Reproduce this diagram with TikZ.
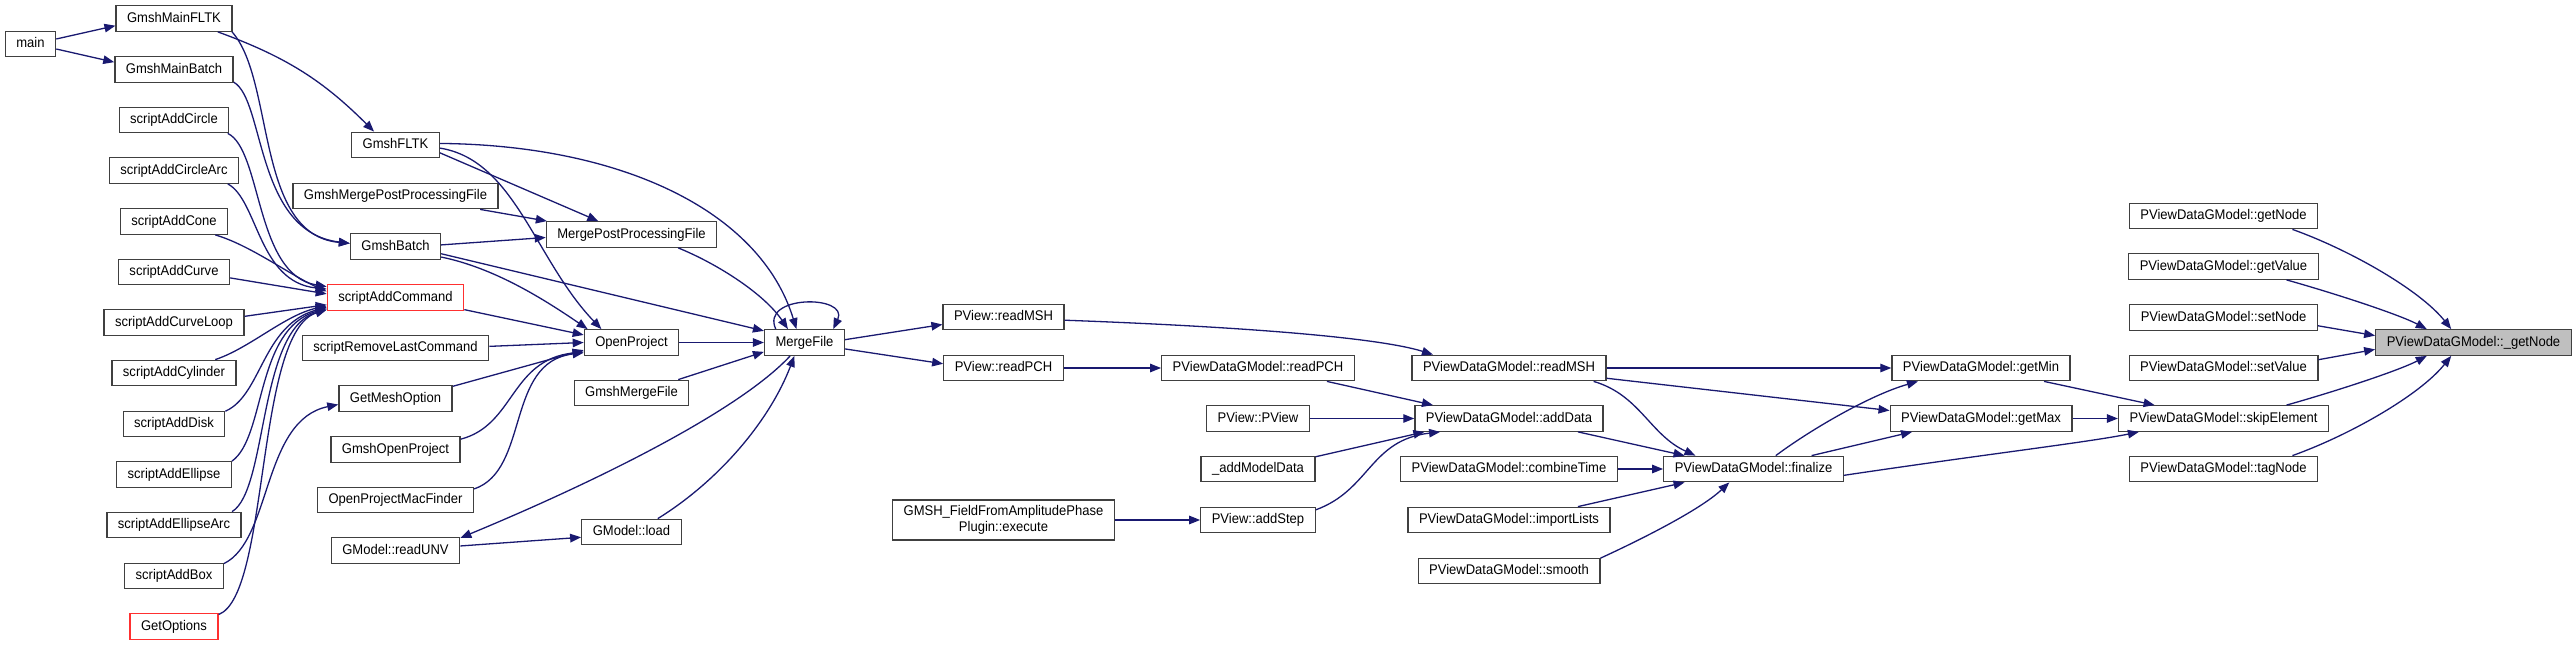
\documentclass[tikz,border=0pt]{standalone}
\usepackage{fontspec}
\setmainfont{Liberation Sans}[FakeStretch=0.93]
\usetikzlibrary{arrows.meta}
\definecolor{cEdge}{HTML}{191970}
\definecolor{cFrame}{HTML}{404040}
\definecolor{cTrunc}{HTML}{FF3030}
\definecolor{cCurrent}{HTML}{BFBFBF}

\begin{document}
\begin{tikzpicture}[
    x=1pt, y=1pt,
    func/.style={rectangle, draw=#1, fill=white, line width=1.3pt, minimum height=25.5pt, inner xsep=11pt, inner ysep=0pt, text height=10pt, text depth=3pt, font=\fontsize{14}{16}\selectfont},
    func/.default={cFrame},
    arr/.style={-{Triangle[length=11pt,width=8.5pt]}, line width=1.3pt, cEdge},
]
\useasboundingbox (0,0) rectangle (2576,-645);

\def\colA{174}
\def\colB{395.5}
\def\colC{631.5}
\def\colD{804.5}
\def\colE{1003.5}
\def\colF{1258}
\def\colG{1509}
\def\colH{1753.5}
\def\colI{1981}
\def\colJ{2223.5}
\def\colK{2473.5}

% Column 1
\node[func] (main) at (30.5,-44) {main};
\node[func] (gmfltk) at (\colA,-18.5) {GmshMainFLTK};
\node[func] (gmbatch) at (\colA,-69.5) {GmshMainBatch};
\node[func] (sacircle) at (\colA,-120) {scriptAddCircle};
\node[func] (sacarc) at (\colA,-170.5) {scriptAddCircleArc};
\node[func] (sacone) at (\colA,-221.5) {scriptAddCone};
\node[func] (sacurve) at (\colA,-272) {scriptAddCurve};
\node[func] (saloop) at (\colA,-322.5) {scriptAddCurveLoop};
\node[func] (sacyl) at (\colA,-373) {scriptAddCylinder};
\node[func] (sadisk) at (\colA,-424) {scriptAddDisk};
\node[func] (saell) at (\colA,-474.5) {scriptAddEllipse};
\node[func] (saellarc) at (\colA,-525) {scriptAddEllipseArc};
\node[func] (sabox) at (\colA,-576) {scriptAddBox};
\node[func=cTrunc] (getopt) at (\colA,-626.5) {GetOptions};

% Column 2
\node[func] (gfltk) at (\colB,-145) {GmshFLTK};
\node[func] (gmpp) at (\colB,-196) {GmshMergePostProcessingFile};
\node[func] (gbatch) at (\colB,-246.5) {GmshBatch};
\node[func=cTrunc] (sac) at (\colB,-297.5) {scriptAddCommand};
\node[func] (srlc) at (\colB,-348) {scriptRemoveLastCommand};
\node[func] (gmo) at (\colB,-398.5) {GetMeshOption};
\node[func] (gop) at (\colB,-449.5) {GmshOpenProject};
\node[func] (opmf) at (\colB,-500) {OpenProjectMacFinder};
\node[func] (readunv) at (\colB,-550.5) {GModel::readUNV};

% Column 3 and 4
\node[func] (mpp) at (\colC,-234.5) {MergePostProcessingFile};
\node[func] (openproj) at (\colC,-342.5) {OpenProject};
\node[func] (gmf) at (\colC,-393) {GmshMergeFile};
\node[func] (gmload) at (\colC,-532) {GModel::load};
\node[func] (mergefile) at (\colD,-342.5) {MergeFile};

% Column 5 and 6
\node[func] (pvmsh) at (\colE,-317) {PView::readMSH};
\node[func] (pvpch) at (\colE,-368) {PView::readPCH};
\node[func, align=center, text height={}, text depth={}, minimum height=40pt] (fieldexec) at (\colE,-520) {GMSH\_FieldFromAmplitudePhase\\Plugin::execute};
\node[func] (pdpch) at (\colF,-368) {PViewDataGModel::readPCH};
\node[func] (pview) at (\colF,-418.5) {PView::PView};
\node[func] (amd) at (\colF,-469) {\_addModelData};
\node[func] (addstep) at (\colF,-520) {PView::addStep};

% Column 7 and 8
\node[func] (pdmsh) at (\colG,-368) {PViewDataGModel::readMSH};
\node[func] (adddata) at (\colG,-418.5) {PViewDataGModel::addData};
\node[func] (combine) at (\colG,-469) {PViewDataGModel::combineTime};
\node[func] (importl) at (\colG,-520) {PViewDataGModel::importLists};
\node[func] (smooth) at (\colG,-571) {PViewDataGModel::smooth};
\node[func] (finalize) at (\colH,-469) {PViewDataGModel::finalize};

% Column 9 to 11
\node[func] (getmin) at (\colI,-368) {PViewDataGModel::getMin};
\node[func] (getmax) at (\colI,-418.5) {PViewDataGModel::getMax};
\node[func] (getnode) at (\colJ,-216) {PViewDataGModel::getNode};
\node[func] (getvalue) at (\colJ,-266.5) {PViewDataGModel::getValue};
\node[func] (setnode) at (\colJ,-317.5) {PViewDataGModel::setNode};
\node[func] (setvalue) at (\colJ,-368) {PViewDataGModel::setValue};
\node[func] (skipel) at (\colJ,-418.5) {PViewDataGModel::skipElement};
\node[func] (tagnode) at (\colJ,-469) {PViewDataGModel::tagNode};
\node[func, fill=cCurrent] (cur) at (\colK,-342.5) {PViewDataGModel::\_getNode};

% main and the Gmsh entry points
\draw[arr] (main.11) -- (gmfltk.187);
\draw[arr] (main.-11) -- (gmbatch.173);
\draw[arr] (gmfltk.-17) to[out=-20,in=135] (gfltk.148);
\draw[arr] (gmfltk.-13) .. controls (275,-80) and (255,-235) .. (gbatch.176);
\draw[arr] (gmbatch.-12) .. controls (265,-100) and (255,-232) .. (gbatch.176);

% script bundle
\draw[arr] (sacircle.-14) .. controls (262,-150) and (255,-275) .. (sac.171);
\draw[arr] (sacarc.-14) .. controls (258,-200) and (258,-282) .. (sac.173);
\draw[arr] (sacone.-18) .. controls (250,-245) and (290,-275) .. (sac.175);
\draw[arr] (sacurve.-6) -- (sac.177);
\draw[arr] (saloop.5) -- (sac.186);
\draw[arr] (sacyl.18) .. controls (250,-348) and (285,-315) .. (sac.187);
\draw[arr] (sadisk.14) .. controls (262,-395) and (262,-325) .. (sac.188);
\draw[arr] (saell.13) .. controls (266,-437) and (255,-329) .. (sac.189);
\draw[arr] (saellarc.13) .. controls (268,-490) and (258,-329) .. (sac.190);
\draw[arr] (getopt.15) .. controls (270,-595) and (255,-332) .. (sac.190);
\draw[arr] (sabox.14) .. controls (272,-540) and (262,-420) .. (gmo.186);

% into OpenProject / MergePostProcessingFile
\draw[arr] (gfltk.-10) -- (mpp.158);
\draw[arr] (gfltk.-4) .. controls (515,-160) and (535,-260) .. (openproj.156);
\draw[arr] (gfltk.2) .. controls (620,-145) and (760,-210) .. (mergefile.121);
\draw[arr] (gmpp.-9) -- (mpp.171);
\draw[arr] (gbatch.2) -- (mpp.182);
\draw[arr] (gbatch.-9) -- (mergefile.164);
\draw[arr] (gbatch.-13) .. controls (495,-268) and (545,-300) .. (openproj.163);
\draw[arr] (sac.-10) -- (openproj.171);
\draw[arr] (srlc.1) -- (openproj.180);
\draw[arr] (gmo.12) -- (openproj.189);
\draw[arr] (gop.9) .. controls (515,-425) and (510,-360) .. (openproj.191);
\draw[arr] (opmf.8) .. controls (530,-470) and (505,-362) .. (openproj.192);
\draw[arr] (mergefile.223) .. controls (740,-410) and (600,-480) .. (readunv.11);
\draw[arr] (readunv.4) -- (gmload.186);

% into MergeFile
\draw[arr] (mpp.-16) .. controls (720,-265) and (765,-295) .. (mergefile.141);
\draw[arr] (openproj) -- (mergefile);
\draw[arr] (gmf.16) -- (mergefile.193);
\draw[arr] (gmload.27) .. controls (720,-480) and (770,-420) .. (mergefile.233);
\draw[arr] (mergefile.155) to[out=115,in=65,looseness=1.7] (mergefile.25);

% PView readers
\draw[arr] (mergefile.4) -- (pvmsh.187);
\draw[arr] (mergefile.-9) -- (pvpch.176);
\draw[arr] (pvmsh.-3) .. controls (1250,-327) and (1380,-338) .. (pdmsh.170);
\draw[arr] (pvpch) -- (pdpch);
\draw[arr] (fieldexec) -- (addstep);

% into addData
\draw[arr] (pdpch.-11) -- (adddata.170);
\draw[arr] (pview) -- (adddata);
\draw[arr] (amd.12) -- (adddata.189);
\draw[arr] (addstep.10) .. controls (1370,-490) and (1370,-440) .. (adddata.191);

% into finalize, getMin, getMax
\draw[arr] (pdmsh) -- (getmin);
\draw[arr] (pdmsh.-6) -- (getmax.175);
\draw[arr] (pdmsh.-9) .. controls (1640,-395) and (1650,-435) .. (finalize.167);
\draw[arr] (adddata.-11) -- (finalize.169);
\draw[arr] (combine) -- (finalize);
\draw[arr] (importl.11) -- (finalize.191);
\draw[arr] (smooth.8) .. controls (1640,-540) and (1700,-510) .. (finalize.209);
\draw[arr] (finalize.31) .. controls (1810,-430) and (1870,-395) .. (getmin.192);
\draw[arr] (finalize.13) -- (getmax.191);

% into skipElement and _getNode
\draw[arr] (finalize.-4) .. controls (1980,-455) and (2090,-442) .. (skipel.189);
\draw[arr] (getmin.-12) -- (skipel.169);
\draw[arr] (getmax) -- (skipel);
\draw[arr] (getnode.-11) .. controls (2350,-250) and (2420,-290) .. (cur.149);
\draw[arr] (getvalue.-12) .. controls (2340,-295) and (2400,-315) .. (cur.164);
\draw[arr] (setnode.-5) -- (cur.176);
\draw[arr] (setvalue.5) -- (cur.184);
\draw[arr] (skipel.12) .. controls (2340,-390) and (2400,-370) .. (cur.196);
\draw[arr] (tagnode.11) .. controls (2350,-435) and (2420,-395) .. (cur.211);

\end{tikzpicture}
\end{document}
